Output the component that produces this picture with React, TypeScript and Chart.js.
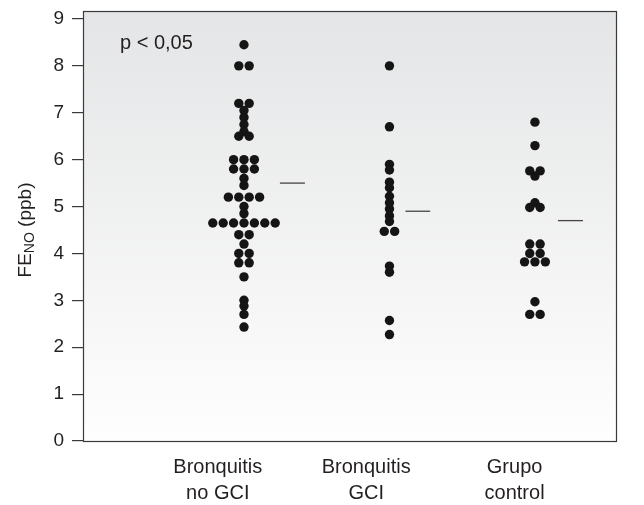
import React, { useEffect, useRef } from 'react';
import { Chart, registerables } from 'chart.js';

Chart.register(...registerables);

// ---- data ----
const categories: string[][] = [
  ['Bronquitis', 'no GCI'],
  ['Bronquitis', 'GCI'],
  ['Grupo', 'control'],
];
const yTickValues = [0, 1, 2, 3, 4, 5, 6, 7, 8, 9];

const bronquitisNoGCI = [
  8.45, 8.0, 8.0, 7.2, 7.2, 7.05, 6.9, 6.75, 6.6, 6.5, 6.5,
  6.0, 6.0, 6.0, 5.8, 5.8, 5.8, 5.6, 5.45, 5.2, 5.2, 5.2, 5.2,
  5.0, 4.85, 4.65, 4.65, 4.65, 4.65, 4.65, 4.65, 4.65,
  4.4, 4.4, 4.2, 4.0, 4.0, 3.8, 3.8, 3.5, 3.0, 2.88, 2.7, 2.43,
];
const bronquitisGCI = [
  8.0, 6.7, 5.9, 5.78, 5.52, 5.4, 5.22, 5.08, 4.95, 4.8, 4.68,
  4.47, 4.47, 3.73, 3.6, 2.57, 2.27,
];
const grupoControl = [
  6.8, 6.3, 5.76, 5.76, 5.65, 5.08, 4.98, 4.98, 4.2, 4.2, 4.0, 4.0,
  3.82, 3.82, 3.82, 2.97, 2.7, 2.7,
];
const groups = [bronquitisNoGCI, bronquitisGCI, grupoControl];
const meanValues = [5.5, 4.9, 4.7];
const pValueLabel = 'p < 0,05';
const yTitleMain = 'FE';
const yTitleSub = 'NO';
const yTitleUnit = ' (ppb)';

// ---- layout constants ----
const X_MIN = -0.1065;
const X_MAX = 3.564;
const Y_MAX = 9.17;
const DOT_STEP = 0.0715;
const LABEL_OFFSET = [-0.18, -0.16, -0.14];
const MEAN_LINE = [
  [0.247, 0.419],
  [0.11, 0.28],
  [0.158, 0.33],
];
const FONT = '"Liberation Sans", Arial, Helvetica, sans-serif';
const TEXT_COLOR = '#231f20';

function swarm(values: number[], g: number) {
  const counts = new Map<number, number>();
  values.forEach((v) => counts.set(v, (counts.get(v) || 0) + 1));
  const seen = new Map<number, number>();
  return values.map((v) => {
    const n = counts.get(v) || 1;
    const k = seen.get(v) || 0;
    seen.set(v, k + 1);
    return { x: g + (k - (n - 1) / 2) * DOT_STEP, y: v };
  });
}

const decorPlugin = {
  id: 'decor',
  beforeDraw(chart: any) {
    const { ctx, chartArea: a } = chart;
    ctx.save();
    const grad = ctx.createLinearGradient(0, a.top, 0, a.bottom);
    grad.addColorStop(0, '#e4e5e6');
    grad.addColorStop(1, '#fefefe');
    ctx.fillStyle = grad;
    ctx.fillRect(a.left, a.top, a.right - a.left, a.bottom - a.top);
    ctx.restore();
  },
  afterDraw(chart: any) {
    const { ctx, chartArea: a } = chart;
    ctx.save();
    ctx.strokeStyle = '#3a3a3a';
    ctx.lineWidth = 1.2;
    ctx.strokeRect(a.left + 0.5, a.top + 0.5, a.right - a.left - 1, a.bottom - a.top);

    // p label
    ctx.fillStyle = TEXT_COLOR;
    ctx.font = `20px ${FONT}`;
    ctx.textBaseline = 'middle';
    ctx.textAlign = 'left';
    ctx.fillText(pValueLabel, 120, 43);

    // y title with subscript
    ctx.translate(26, 230);
    ctx.rotate(-Math.PI / 2);
    const big = `19px ${FONT}`;
    const small = `14px ${FONT}`;
    ctx.font = big;
    const w1 = ctx.measureText(yTitleMain).width;
    const w3 = ctx.measureText(yTitleUnit).width;
    ctx.font = small;
    const w2 = ctx.measureText(yTitleSub).width;
    let x = -(w1 + w2 + w3) / 2;
    ctx.font = big;
    ctx.fillText(yTitleMain, x, 0);
    x += w1;
    ctx.font = small;
    ctx.fillText(yTitleSub, x, 4);
    x += w2;
    ctx.font = big;
    ctx.fillText(yTitleUnit, x, 0);
    ctx.restore();
  },
};

export default function App() {
  const ref = useRef<HTMLCanvasElement>(null);
  useEffect(() => {
    document.body.style.margin = '0';
    const datasets: any[] = [];
    groups.forEach((vals, g) => {
      datasets.push({
        type: 'scatter',
        data: swarm(vals, g + 1),
        pointRadius: 4.7,
        pointBorderWidth: 0,
        pointBackgroundColor: '#151515',
        pointBorderColor: '#151515',
      });
    });
    meanValues.forEach((m, g) => {
      datasets.push({
        type: 'line',
        data: [
          { x: g + 1 + MEAN_LINE[g][0], y: m },
          { x: g + 1 + MEAN_LINE[g][1], y: m },
        ],
        borderColor: '#444',
        borderWidth: 1.3,
        pointRadius: 0,
        fill: false,
      });
    });
    const chart = new Chart(ref.current!, {
      type: 'scatter',
      data: { datasets },
      plugins: [decorPlugin],
      options: {
        animation: false,
        responsive: true,
        maintainAspectRatio: false,
        layout: { padding: { top: 11, right: 27, left: 0, bottom: 0 } },
        plugins: { legend: { display: false }, tooltip: { enabled: false } },
        scales: {
          x: {
            type: 'linear',
            min: X_MIN,
            max: X_MAX,
            afterBuildTicks: (axis: any) => {
              axis.ticks = categories.map((_, i) => ({ value: i + 1 + LABEL_OFFSET[i] }));
            },
            afterFit: (s: any) => {
              s.height = 64;
              s.paddingLeft = 0;
              s.paddingRight = 0;
            },
            grid: { display: false, drawTicks: false },
            border: { display: false },
            ticks: {
              autoSkip: false,
              maxRotation: 0,
              padding: 13,
              color: TEXT_COLOR,
              font: { family: FONT, size: 20, lineHeight: 1.3 },
              callback: (_v: any, i: number) => categories[i],
            },
          },
          y: {
            type: 'linear',
            min: 0,
            max: Y_MAX,
            afterBuildTicks: (axis: any) => {
              axis.ticks = yTickValues.map((v) => ({ value: v }));
            },
            afterFit: (s: any) => {
              s.width = 83;
              s.paddingTop = 0;
              s.paddingBottom = 0;
            },
            grid: {
              drawOnChartArea: false,
              drawTicks: true,
              tickLength: 11,
              color: '#3a3a3a',
              lineWidth: 1.2,
            },
            border: { display: false },
            ticks: {
              padding: 8,
              color: TEXT_COLOR,
              font: { family: FONT, size: 19 },
            },
          },
        },
      },
    });
    return () => chart.destroy();
  }, []);
  return (
    <div style={{ width: 644, height: 505, position: 'relative' }}>
      <canvas ref={ref} />
    </div>
  );
}
